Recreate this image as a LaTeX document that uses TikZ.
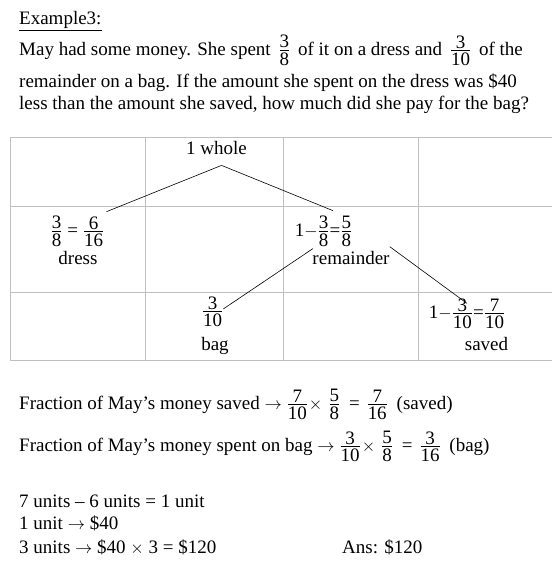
\documentclass[tikz,border=0pt]{standalone}
\usepackage{amsmath}
\usepackage{fontspec}
\setmainfont{Liberation Serif}
\usepackage{tikz}

\newcommand{\frc}[2]{\frac{\raisebox{0pt}[\height][2.2pt]{#1}}{\raisebox{0pt}[\dimexpr\height+1pt\relax][0pt]{#2}}}

\begin{document}
\begin{tikzpicture}[x=1pt,y=-1pt,
    font=\fontsize{19}{23}\selectfont,
    line/.style={anchor=base west,inner sep=0pt},
    cell/.style={anchor=base,inner sep=0pt},
    gridline/.style={draw=black!25,line width=0.9pt},
    branch/.style={line width=0.6pt}]
			% Page size
			\useasboundingbox (0,0) rectangle (552,574);
			\fill[white] (0,0) rectangle (552,574);
			
			% Question
			\node[line] (title) at (19,24) {\underline{Example3:}};
			\node[line] (qa) at (19,55) {May had some money. She spent\hspace{3pt} $\frc{3}{8}$\hspace{3pt} of it on a dress and\hspace{3pt} $\frc{3}{10}$\hspace{3pt} of the};
			\node[line] (qb) at (19,87) {remainder on a bag. If the amount she spent on the dress was \$40};
			\node[line] (qc) at (19,109) {less than the amount she saved, how much did she pay for the bag?};
			
			% Table grid
			\foreach \y in {137,206,292,360}
				\draw[gridline] (10,\y) -- (552,\y);
			\foreach \x in {10,145,283,418}
				\draw[gridline] (\x,137) -- (\x,360);
			
			% Top of the tree
			\node[line] (whole) at (186,154) {1 whole};
			
			% Dress and remainder
			\node[cell] (dressfr) at (77.5,236) {$\frc{3}{8}\;\mbox{=}\;\frc{6}{16}$};
			\node[cell] (dresslbl) at (78,264) {dress};
			\node[cell] (remfr) at (323.5,236) {$\mbox{1}{-}\frc{3}{8}{\mbox{=}}\frc{5}{8}$};
			\node[cell] (remlbl) at (351,264) {remainder};
			
			% Bag and saved
			\node[cell] (bagfr) at (212.5,316) {$\frc{3}{10}$};
			\node[cell] (baglbl) at (215,350) {bag};
			\node[cell] (savedfr) at (467,318) {$\mbox{1}{-}\frc{3}{10}{\mbox{=}}\frc{7}{10}$};
			\node[cell] (savedlbl) at (486.5,350) {saved};
			
			% Branches
			\draw[branch] ([xshift=5pt,yshift=-11pt]whole.south) -- ([xshift=2pt,yshift=4pt]dressfr.north east);
			\draw[branch] ([xshift=5pt,yshift=-11pt]whole.south) -- ([xshift=9.5pt,yshift=5pt]remfr.north);
			\draw[branch] ([xshift=-10.5pt,yshift=-2pt]remfr.south) -- ([yshift=2.6pt]bagfr.east);
			\draw[branch] ([yshift=4pt]remlbl.north east) -- ([yshift=-5pt]savedfr.north);
			
			% Working
			\node[line] (wsaved) at (19,409) {Fraction of May's money saved $\rightarrow$ $\frc{7}{10}\hspace{1pt}{\times}\hspace{6pt}\frc{5}{8}$\hspace{4pt} = \hspace{2pt}$\frc{7}{16}$\hspace{4pt} (saved)};
			\node[line] (wbag) at (19,451) {Fraction of May's money spent on bag $\rightarrow$ $\frc{3}{10}\hspace{1pt}{\times}\hspace{6pt}\frc{5}{8}$\hspace{4pt} = \hspace{2pt}$\frc{3}{16}$\hspace{4pt} (bag)};
			\node[line] (units) at (19,507) {7 units -- 6 units = 1 unit};
			\node[line] (oneunit) at (19,529) {1 unit $\rightarrow$ \$40};
			\node[line] (threeunits) at (19,553) {3 units $\rightarrow$ \$40 $\times$ 3 = \$120};
			\node[line] (ans) at (342,553) {Ans: \$120};
			
\end{tikzpicture}
\end{document}
